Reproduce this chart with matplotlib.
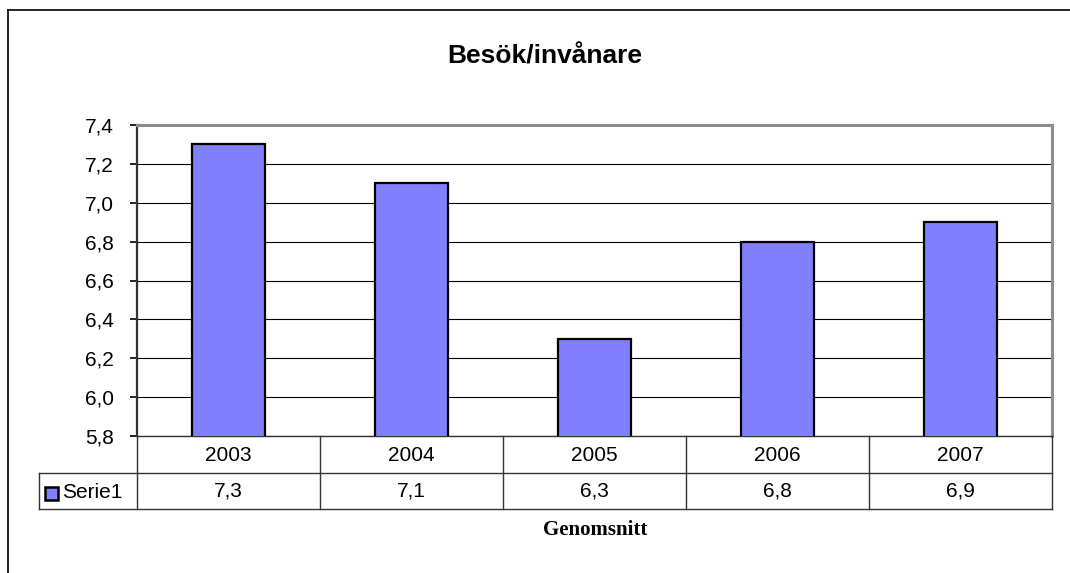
import matplotlib
matplotlib.use("Agg")
import matplotlib.pyplot as plt
from matplotlib.lines import Line2D
from matplotlib.patches import Rectangle
import matplotlib.transforms as mtransforms

years = ["2003", "2004", "2005", "2006", "2007"]
values = [7.3, 7.1, 6.3, 6.8, 6.9]
value_labels = ["7,3", "7,1", "6,3", "6,8", "6,9"]
yticks = [5.8, 6.0, 6.2, 6.4, 6.6, 6.8, 7.0, 7.2, 7.4]
ytick_labels = ["5,8", "6,0", "6,2", "6,4", "6,6", "6,8", "7,0", "7,2", "7,4"]
series_name = "Serie1"
title = "Besök/invånare"
xlabel = "Genomsnitt"

W, H = 1070, 573
fig = plt.figure(figsize=(W / 100, H / 100), dpi=100)
fig.patch.set_facecolor("white")

def fx(x):
    return x / W

def fy(y):
    return 1 - y / H

FS = 15

# plot area in pixels
L, T, R, B = 137, 125, 1052, 436
ax = fig.add_axes([fx(L), fy(B), fx(R - L), (B - T) / H])
ax.set_facecolor("white")

bar_color = "#8080FF"
x = list(range(len(years)))
ax.bar(x, values, width=0.4, color=bar_color, edgecolor="black", linewidth=1.6, zorder=3)
ax.set_xlim(-0.5, len(years) - 0.5)
ax.set_ylim(yticks[0], yticks[-1])
ax.set_yticks(yticks)
ax.set_yticklabels(ytick_labels, fontsize=FS, family="Liberation Sans")
ax.tick_params(axis="y", length=5, width=1.2, color="black", pad=11.5)
ax.set_xticks([])
ax.yaxis.grid(True, color="black", linewidth=0.8, zorder=0)
ax.set_axisbelow(True)

for s in ["top", "right"]:
    ax.spines[s].set_color("#8c8c8c")
    ax.spines[s].set_linewidth(2.2)
ax.spines["left"].set_color("#333333")
ax.spines["left"].set_linewidth(1.6)
ax.spines["bottom"].set_color("#333333")
ax.spines["bottom"].set_linewidth(1.0)

# data table below the plot
row1_top, row1_bot, row2_bot = B, 473, 509
leg_left = 39
lc = "#333333"
lw = 1.0
lines = []
lines.append(([fx(L), fx(R)], [fy(row1_bot), fy(row1_bot)]))
lines.append(([fx(leg_left), fx(L)], [fy(row1_bot), fy(row1_bot)]))
lines.append(([fx(leg_left), fx(R)], [fy(row2_bot), fy(row2_bot)]))
lines.append(([fx(leg_left), fx(leg_left)], [fy(row1_bot), fy(row2_bot)]))
for k in range(len(years) + 1):
    xp = L + (R - L) * k / len(years)
    lines.append(([fx(xp), fx(xp)], [fy(row1_top), fy(row2_bot)]))
for xs, ys in lines:
    fig.add_artist(Line2D(xs, ys, color=lc, linewidth=lw, transform=fig.transFigure))

trans = mtransforms.blended_transform_factory(ax.transData, fig.transFigure)
for i, (yr, vl) in enumerate(zip(years, value_labels)):
    ax.text(i, fy((row1_top + row1_bot) / 2 + 1), yr, transform=trans, ha="center", va="center",
            fontsize=FS, family="Liberation Sans", clip_on=False)
    ax.text(i, fy((row1_bot + row2_bot) / 2), vl, transform=trans, ha="center", va="center",
            fontsize=FS, family="Liberation Sans", clip_on=False)

# legend key
fig.add_artist(Rectangle((fx(44.5), fy(500)), fx(13.5), 13.5 / H, facecolor=bar_color,
                         edgecolor="black", linewidth=1.8, transform=fig.transFigure))
fig.text(fx(62), fy((row1_bot + row2_bot) / 2 + 1), series_name, ha="left", va="center",
         fontsize=FS, family="Liberation Sans")

# title and axis label
fig.text(fx(545), fy(57), title, ha="center", va="center", fontsize=19,
         fontweight="bold", family="Liberation Sans")
fig.text(fx(595), fy(530), xlabel, ha="center", va="center", fontsize=15,
         fontweight="bold", family="Liberation Serif")

# outer chart border (cut off at right/bottom)
fig.add_artist(Line2D([fx(8), fx(8)], [fy(10), 0], color="black", linewidth=1.2, transform=fig.transFigure))
fig.add_artist(Line2D([fx(8), 1], [fy(10), fy(10)], color="black", linewidth=1.2, transform=fig.transFigure))

fig.savefig("out.png", dpi=100, facecolor="white")
